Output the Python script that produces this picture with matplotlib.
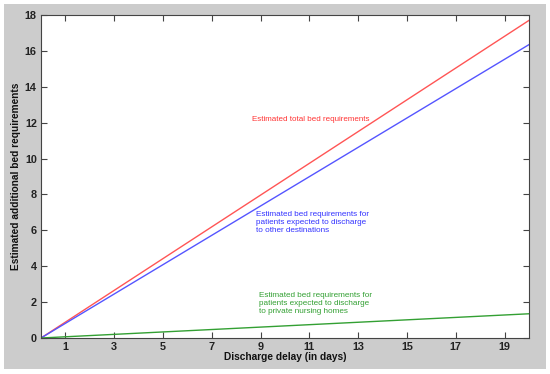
import matplotlib
matplotlib.use("Agg")
import matplotlib.pyplot as plt
from matplotlib.patches import Rectangle

plt.rcParams['font.family'] = ['Liberation Sans', 'DejaVu Sans']

days = [0, 20]
total_beds = [0, 17.7]
other_dest_beds = [0, 16.35]
nursing_home_beds = [0, 1.35]

xticks = [1, 3, 5, 7, 9, 11, 13, 15, 17, 19]
yticks = [0, 2, 4, 6, 8, 10, 12, 14, 16, 18]

fig = plt.figure(figsize=(5.5, 3.74), dpi=100, facecolor='white')
bg = Rectangle((4/550, 5/374), 542/550, 365/374, transform=fig.transFigure,
               facecolor='#cccccc', edgecolor='none', zorder=-10)
fig.add_artist(bg)
ax = fig.add_axes([41/550, 1-338/374, 488/550, 323/374])
ax.set_zorder(5)
ax.set_facecolor('white')

ax.plot(days, total_beds, color='#ff5555', lw=1.0)
ax.plot(days, other_dest_beds, color='#5555ff', lw=1.0)
ax.plot(days, nursing_home_beds, color='#33a033', lw=1.0)

ax.set_xlim(0, 20)
ax.set_ylim(0, 18)
ax.set_xticks(xticks)
ax.set_yticks(yticks)
ax.tick_params(direction='in', top=True, right=True, length=4, width=0.8,
               labelsize=7.8, pad=3, color='#444444', labelcolor='#222222')
for lab in ax.get_xticklabels() + ax.get_yticklabels():
    lab.set_fontweight('bold')
for s in ax.spines.values():
    s.set_color('#444444')
    s.set_linewidth(0.8)

ax.set_xlabel('Discharge delay (in days)', fontsize=7.3, fontweight='bold', color='#111111')
ax.set_ylabel('Estimated additional bed requirements', fontsize=7.3, fontweight='bold', color='#111111')
ax.xaxis.set_label_coords(0.5, -(352 - 338) / 323)
ax.yaxis.set_label_coords(-(41 - 21) / 488, 0.5)

ax.text(8.65, 12.2, 'Estimated total bed requirements', color='#ff3333', fontsize=5.8,
        va='center', ha='left')
ax.text(8.8, 6.45, 'Estimated bed requirements for\npatients expected to discharge\nto other destinations',
        color='#3333ff', fontsize=5.85, va='center', ha='left', linespacing=1.2)
ax.text(8.94, 1.9, 'Estimated bed requirements for\npatients expected to discharge\nto private nursing homes',
        color='#33a033', fontsize=5.85, va='center', ha='left', linespacing=1.2)

fig.savefig('out.png', dpi=100, facecolor='white')
